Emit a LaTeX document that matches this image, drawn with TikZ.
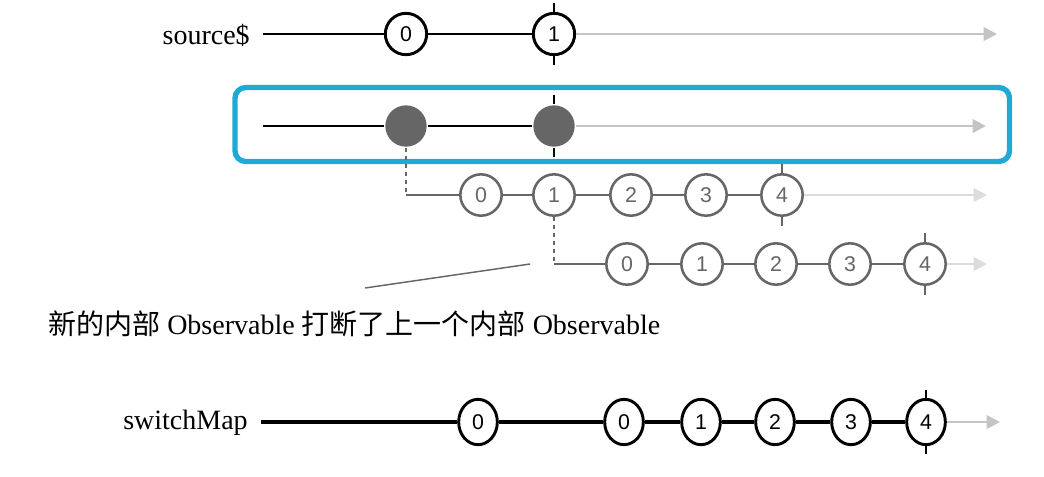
\documentclass[tikz,border=0pt]{standalone}
\usepackage{fontspec}
\setmainfont{Liberation Serif}
\newfontfamily\digitfont{Liberation Sans}
\newfontfamily\cjk{Noto Sans CJK SC}
\usetikzlibrary{arrows.meta}
\definecolor{boxblue}{HTML}{1FAAD6}
\definecolor{inner}{HTML}{666666}
\definecolor{tail}{HTML}{C4C4C4}
\tikzset{
  marble/.style={draw, circle, line width=2.2pt, fill=white, minimum size=31pt, inner sep=0pt, font=\digitfont\fontsize{16}{17}\selectfont},
  gmarble/.style={marble, draw=inner, text=inner, line width=1.9pt},
  omarble/.style={marble, ellipse, minimum width=29pt, minimum height=34pt},
  tailline/.style={draw=tail, line width=2pt, -{Triangle[length=10pt,width=10pt]}},
  label/.style={font=\fontsize{21}{24}\selectfont, inner sep=0pt}
}
\usetikzlibrary{shapes.geometric}
\begin{document}
\begin{tikzpicture}[x=0.75pt, y=-0.75pt]
\useasboundingbox (0,0) rectangle (1044,476);

% source$
\node[label, anchor=east] (src) at (250,35) {source\$};
\coordinate (s0) at (263,34);
\coordinate (s9) at (997,34);
\node[marble] (a1) at (406,34) {0};
\node[marble] (a2) at (554,34) {1};
\path[draw, line width=2.2pt] (s0) -- (a1) -- (a2);
\path[tailline] (a2) -- (s9);
\draw[line width=2.2pt] (a2.north) -- ++(0,-9);
\draw[line width=2.2pt] (a2.south) -- ++(0,9);

% projected into inner Observables
\draw[boxblue, line width=4pt, rounded corners=8pt] (235,87.5) rectangle (1009.5,161.5);
\coordinate (m0) at (263,126);
\coordinate (m9) at (986,126);
\node[marble, draw=none, fill=inner] (b1) at (406,126) {};
\node[marble, draw=none, fill=inner] (b2) at (554,126) {};
\path[draw, line width=2.2pt] (m0) -- (b1) -- (b2);
\path[tailline] (b2) -- (m9);
\draw[line width=2.2pt] (b2.north) -- ++(0,-9);
\draw[line width=2.2pt] (b2.south) -- ++(0,9);

% first inner Observable
\coordinate (c0) at (406,195);
\coordinate (c9) at (987,195);
\node[gmarble] (c1) at (481,195) {0};
\node[gmarble] (c2) at (554,195) {1};
\node[gmarble] (c3) at (631,195) {2};
\node[gmarble] (c4) at (706,195) {3};
\node[gmarble] (c5) at (782,195) {4};
\draw[inner, dashed, line width=0.9pt] (b1.south) -- (c0);
\path[draw, inner, line width=1.9pt] (c0) -- (c1) -- (c2) -- (c3) -- (c4) -- (c5);
\path[tailline, draw=tail!60] (c5) -- (c9);
\draw[inner, line width=1.9pt] (c5.north) -- ++(0,-9);
\draw[inner, line width=1.9pt] (c5.south) -- ++(0,9);

% second inner Observable
\coordinate (d0) at (554,264);
\coordinate (d9) at (987,264);
\node[gmarble] (d1) at (627,264) {0};
\node[gmarble] (d2) at (702,264) {1};
\node[gmarble] (d3) at (776,264) {2};
\node[gmarble] (d4) at (850,264) {3};
\node[gmarble] (d5) at (925,264) {4};
\draw[inner, dashed, line width=0.9pt] (c2.south) -- (d0);
\path[draw, inner, line width=1.9pt] (d0) -- (d1) -- (d2) -- (d3) -- (d4) -- (d5);
\path[tailline, draw=tail!60] (d5) -- (d9);
\draw[inner, line width=1.9pt] (d5.north) -- ++(0,-9);
\draw[inner, line width=1.9pt] (d5.south) -- ++(0,9);

% note
\node[label, anchor=west] (note) at (48,324) {{\cjk 新的内部} Observable {\cjk 打断了上一个内部} Observable};
\coordinate (n0) at (530,264);
\coordinate (n1) at (365,288);
\draw[inner, line width=1.1pt] (n0) -- (n1);

% switchMap
\node[label, anchor=east] (sw) at (248,423) {switchMap};
\coordinate (e0) at (261,422);
\coordinate (e9) at (1000,422);
\node[omarble] (e1) at (478,422) {0};
\node[omarble] (e2) at (624,422) {0};
\node[omarble] (e3) at (701,422) {1};
\node[omarble] (e4) at (775,422) {2};
\node[omarble] (e5) at (851,422) {3};
\node[omarble] (e6) at (926,422) {4};
\path[draw, line width=2.6pt] (e0) -- (e1) -- (e2) -- (e3) -- (e4) -- (e5) -- (e6);
\path[tailline] (e6) -- (e9);
\draw[line width=2.2pt] (e6.north) -- ++(0,-8);
\draw[line width=2.2pt] (e6.south) -- ++(0,8);
\end{tikzpicture}
\end{document}
